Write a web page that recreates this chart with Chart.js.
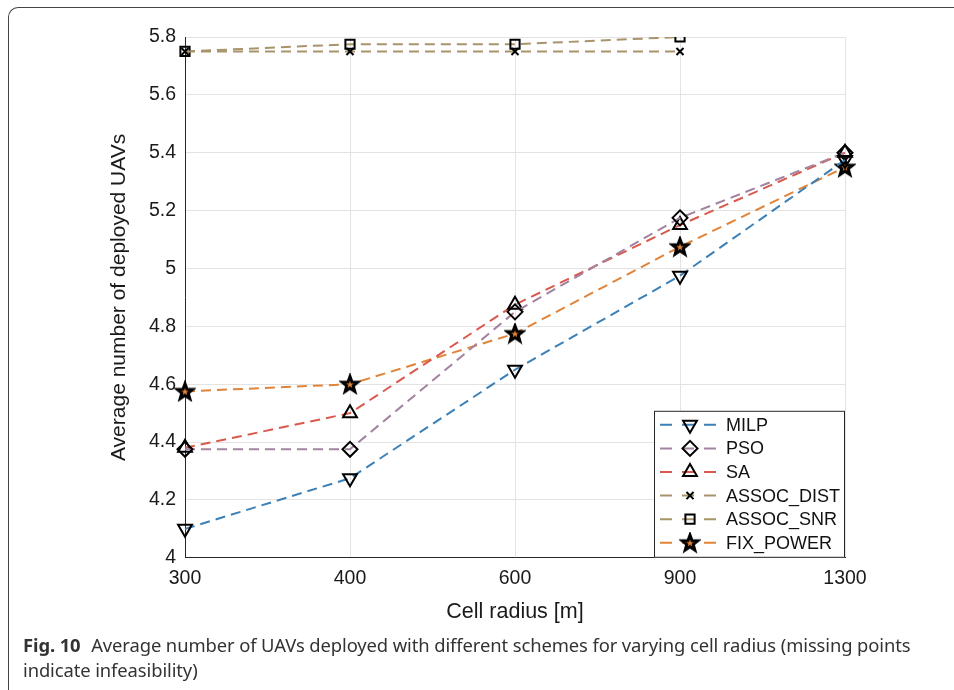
<!DOCTYPE html>
<html lang="en">
<head>
<meta charset="UTF-8">
<title>Fig. 10</title>
<script src="https://cdn.jsdelivr.net/npm/chart.js"></script>
<style>
  html, body { margin: 0; padding: 0; background: #fff; }
  body { width: 954px; height: 690px; position: relative; overflow: hidden; }
  #frame {
    position: absolute; left: 8px; top: 7px; width: 1000px; height: 720px;
    border-left: 1.5px solid #444; border-top: 1.5px solid #444;
    border-top-left-radius: 10px;
  }
  #wrap { position: absolute; left: 0; top: 0; }
  #caption {
    position: absolute; left: 23px; top: 632px; width: 930px;
    font-family: "Noto Sans", sans-serif; font-size: 18.4px; line-height: 25px;
    color: #333; letter-spacing: -0.1px; white-space: nowrap;
  }
  #caption b { font-weight: 700; margin-right: 6px; }
</style>
</head>
<body>
<div id="frame"></div>
<div id="wrap"><canvas id="myChart" width="954" height="635"></canvas></div>
<div id="caption"><b>Fig. 10</b> Average number of UAVs deployed with different schemes for varying cell radius (missing points<br>indicate infeasibility)</div>
<script>
// data
const radius = ['300', '400', '600', '900', '1300'];
const milp = [4.10, 4.275, 4.65, 4.975, 5.375];
const pso = [4.375, 4.375, 4.85, 5.175, 5.40];
const sa = [4.38, 4.50, 4.875, 5.15, 5.40];
const assocDist = [5.75, 5.75, 5.75, 5.75, null];
const assocSnr = [5.75, 5.775, 5.775, 5.80, null];
const fixPower = [4.575, 4.60, 4.775, 5.075, 5.35];

const FONT = '"Liberation Sans", Arial, sans-serif';

// 5-point star marker
function makeStar() {
  const c = document.createElement('canvas');
  c.width = 22; c.height = 22;
  const g = c.getContext('2d');
  g.beginPath();
  for (let i = 0; i < 10; i++) {
    const r = i % 2 === 0 ? 8.2 : 3.4;
    const a = -Math.PI / 2 + i * Math.PI / 5;
    const x = 11 + r * Math.cos(a), y = 11.5 + r * Math.sin(a);
    if (i === 0) g.moveTo(x, y); else g.lineTo(x, y);
  }
  g.closePath();
  g.fillStyle = '#e0843a';
  g.fill();
  g.lineWidth = 3;
  g.lineJoin = 'miter';
  g.strokeStyle = '#000';
  g.stroke();
  return c;
}
const star = makeStar();

function series(label, data, color, style, rot, r) {
  return {
    label: label,
    data: data,
    borderColor: color,
    borderWidth: 2,
    borderDash: [10, 6],
    fill: false,
    tension: 0,
    spanGaps: false,
    pointStyle: style,
    rotation: rot,
    pointRadius: r,
    pointHoverRadius: r,
    pointBorderColor: '#000',
    pointBackgroundColor: 'rgba(0,0,0,0)',
    pointBorderWidth: 2
  };
}

const datasets = [
  series('MILP', milp, '#3b80b7', 'triangle', 180, 8),
  series('PSO', pso, '#a3829f', 'rectRot', 0, 7.5),
  series('SA', sa, '#d95a4c', 'triangle', 0, 8),
  series('ASSOC_DIST', assocDist, '#a8946a', 'crossRot', 0, 5),
  series('ASSOC_SNR', assocSnr, '#a8946a', 'rect', 0, 6.5),
  series('FIX_POWER', fixPower, '#e0843a', star, 0, 10)
];

const boxLegend = {
  id: 'boxLegend',
  afterDatasetsDraw(chart) {
    const ctx = chart.ctx;
    const area = chart.chartArea;
    const w = 191, h = 147;
    const x0 = area.right - w, y0 = area.bottom - h;
    ctx.save();
    ctx.fillStyle = '#fff';
    ctx.fillRect(x0, y0, w, h);
    ctx.strokeStyle = '#262626';
    ctx.lineWidth = 1;
    ctx.strokeRect(x0 + 0.5, y0 + 0.5, w - 1, h - 1);
    chart.data.datasets.forEach((ds, i) => {
      const y = y0 + 14 + i * 23.6;
      ctx.save();
      ctx.strokeStyle = ds.borderColor;
      ctx.lineWidth = 2;
      ctx.setLineDash([12, 10]);
      ctx.beginPath();
      ctx.moveTo(x0 + 6, y);
      ctx.lineTo(x0 + 68, y);
      ctx.stroke();
      ctx.restore();
      ctx.save();
      ctx.strokeStyle = '#000';
      ctx.fillStyle = 'rgba(0,0,0,0)';
      ctx.lineWidth = 2;
      Chart.helpers.drawPoint(ctx, {
        pointStyle: ds.pointStyle,
        rotation: ds.rotation,
        radius: ds.pointRadius,
        borderWidth: 2
      }, x0 + 36, y);
      ctx.restore();
      ctx.fillStyle = '#111';
      ctx.font = '18px ' + FONT;
      ctx.textBaseline = 'middle';
      ctx.fillText(ds.label, x0 + 72, y + 1);
    });
    ctx.restore();
  }
};

const config = {
  type: 'line',
  data: { labels: radius, datasets: datasets },
  options: {
    responsive: false,
    animation: false,
    layout: { padding: { left: 98, right: 109, top: 37, bottom: 10 } },
    plugins: {
      legend: { display: false },
      tooltip: { enabled: false }
    },
    scales: {
      x: {
        type: 'category',
        offset: false,
        grid: { color: '#e3e3e3', drawTicks: false },
        border: { color: '#262626', width: 1 },
        ticks: {
          color: '#1a1a1a', padding: 9,
          font: { family: FONT, size: 19.5 }
        },
        title: {
          display: true, text: 'Cell radius [m]', color: '#1a1a1a',
          padding: { top: 0, bottom: 0 },
          font: { family: FONT, size: 21.5 }
        }
      },
      y: {
        min: 4, max: 5.8,
        grid: { color: '#e3e3e3', drawTicks: false },
        border: { color: '#262626', width: 1 },
        ticks: {
          stepSize: 0.2, color: '#1a1a1a', padding: 9,
          font: { family: FONT, size: 19.5 },
          callback: v => String(+v.toFixed(1))
        },
        title: {
          display: true, text: 'Average number of deployed UAVs', color: '#1a1a1a',
          padding: { top: 9, bottom: 4 },
          font: { family: FONT, size: 21 }
        },
        afterFit: scale => { scale.width = 87; }
      }
    }
  },
  plugins: [boxLegend]
};

const myChart = new Chart(document.querySelector('#myChart'), config);
</script>
</body>
</html>
